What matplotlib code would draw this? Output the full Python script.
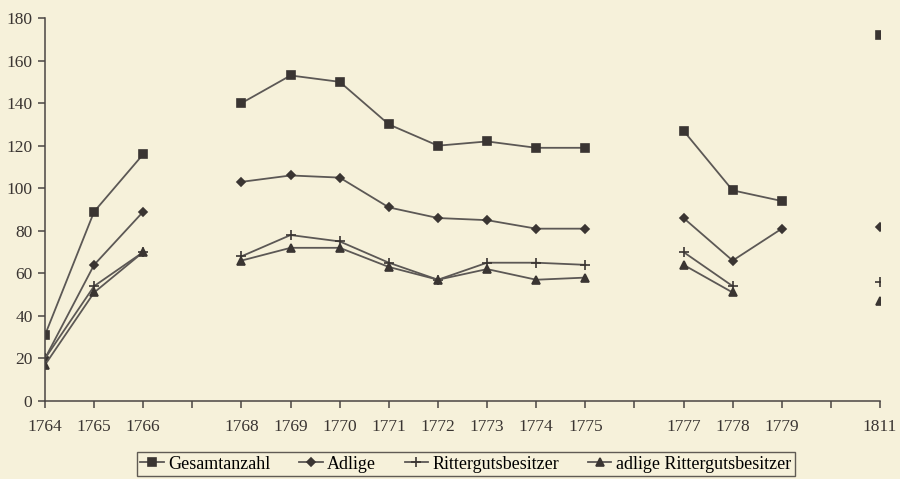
import numpy as np
import matplotlib
matplotlib.use("Agg")
import matplotlib.pyplot as plt

plt.rcParams['font.family'] = ['Liberation Serif', 'DejaVu Serif']

# Kategorien (leere Plätze = Lücken in der Zeitachse)
jahre = ['1764', '1765', '1766', '', '1768', '1769', '1770', '1771', '1772',
         '1773', '1774', '1775', '', '1777', '1778', '1779', '', '1811']

nan = np.nan
gesamtanzahl = [31, 89, 116, nan, 140, 153, 150, 130, 120, 122, 119, 119,
                nan, 127, 99, 94, nan, 172]
adlige = [20, 64, 89, nan, 103, 106, 105, 91, 86, 85, 81, 81,
          nan, 86, 66, 81, nan, 82]
rittergutsbesitzer = [20, 54, 70, nan, 68, 78, 75, 65, 57, 65, 65, 64,
                      nan, 70, 54, nan, nan, 56]
adlige_rgb = [17, 51, 70, nan, 66, 72, 72, 63, 57, 62, 57, 58,
              nan, 64, 51, nan, nan, 47]

bg = '#F6F1DA'
linecol = '#5c5855'
markcol = '#3a3532'

fig = plt.figure(figsize=(9, 4.79), dpi=100)
fig.patch.set_facecolor(bg)
ax = fig.add_axes([0.05, 0.1628, 0.9278, 0.7996])
ax.set_facecolor(bg)

x = np.arange(len(jahre))
serien = [
    (gesamtanzahl, 's', 5.5, 'Gesamtanzahl'),
    (adlige, 'D', 4.5, 'Adlige'),
    (rittergutsbesitzer, '+', 7, 'Rittergutsbesitzer'),
    (adlige_rgb, '^', 5.5, 'adlige Rittergutsbesitzer'),
]
for werte, m, ms, name in serien:
    ax.plot(x, werte, color=linecol, lw=1.3, marker=m, ms=ms,
            mfc=markcol, mec=markcol, mew=1.2, label=name)

ax.set_xlim(0, len(jahre) - 1)
ax.set_ylim(0, 180)
ax.set_yticks(range(0, 181, 20))
ax.set_xticks(x)
ax.set_xticklabels(jahre)
ax.spines['top'].set_visible(False)
ax.spines['right'].set_visible(False)
for s in ('left', 'bottom'):
    ax.spines[s].set_color('#4a4643')
    ax.spines[s].set_linewidth(1.1)
ax.tick_params(axis='both', colors='#4a4643', labelcolor='#3a3532',
               labelsize=12.5, length=5, width=1.1, direction='out')
ax.tick_params(axis='x', pad=8)
ax.tick_params(axis='y', pad=4)

leg = ax.legend(loc='upper left', bbox_to_anchor=(0.110, -0.193, 0.788, 0.06),
                mode='expand', ncol=4, frameon=True, fancybox=False,
                fontsize=13, handlelength=1.3, handletextpad=0.25,
                columnspacing=0.4, borderpad=0.2, borderaxespad=0)
leg.get_frame().set_edgecolor('#3a3532')
leg.get_frame().set_facecolor(bg)
leg.get_frame().set_linewidth(1.0)

fig.savefig('out.png', dpi=100, facecolor=bg)
